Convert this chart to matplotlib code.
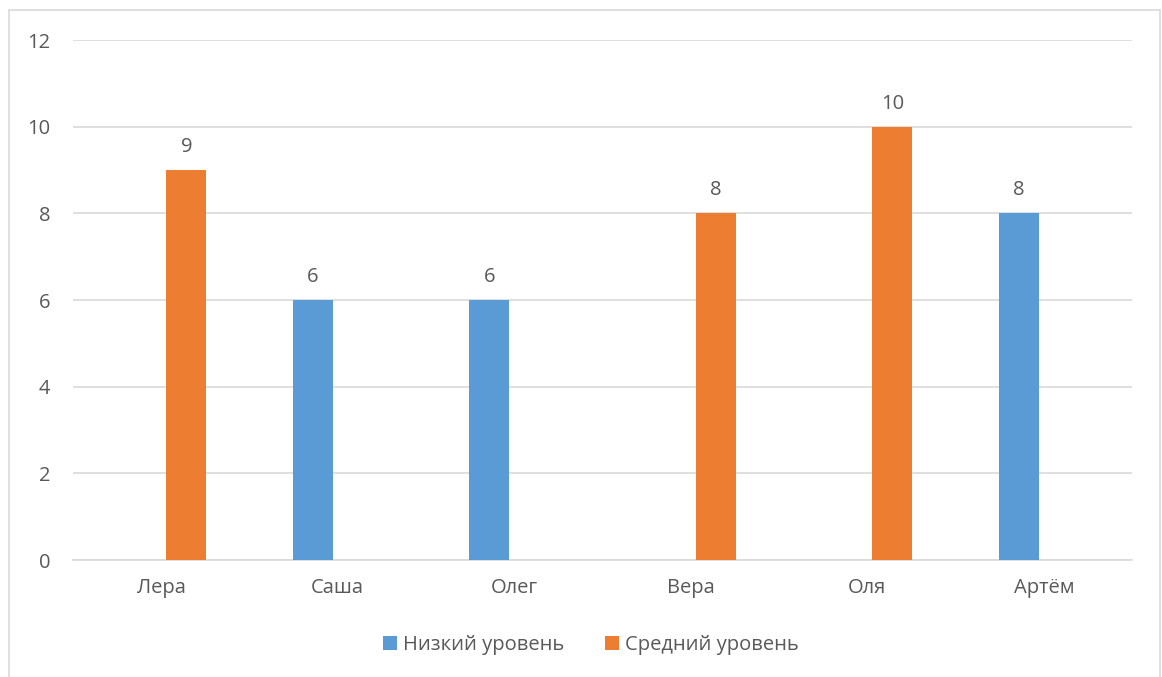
import numpy as np
import matplotlib.pyplot as plt
from matplotlib.patches import Rectangle

names = ['Лера', 'Саша', 'Олег', 'Вера', 'Оля', 'Артём']
low_level = [np.nan, 6, 6, np.nan, np.nan, 8]
mid_level = [9, np.nan, np.nan, 8, 10, np.nan]
series_names = ['Низкий уровень', 'Средний уровень']

plt.rcParams['font.family'] = ['Open Sans', 'DejaVu Sans']
text_color = '#595959'
grid_color = '#d9d9d9'
colors = ['#5b9bd5', '#ed7d31']
fs = 14.5

fig = plt.figure(figsize=(11.62, 6.77), dpi=100)
# light frame around the whole chart
fig.patches.append(Rectangle((9 / 1162, -0.05), 1151 / 1162, 1 - 10 / 677 + 0.05,
                             transform=fig.transFigure, fill=False,
                             edgecolor=grid_color, linewidth=1.2))

ax = fig.add_axes([73 / 1162, 1 - 560 / 677, (1132 - 73) / 1162, (560 - 40) / 677])

x = np.arange(len(names))
w = 0.227
off = 0.142
for vals, sign, color, label in zip([low_level, mid_level], [-1, 1], colors, series_names):
    bars = ax.bar(x + sign * off, vals, width=w, color=color, label=label, zorder=3)
    for b, v in zip(bars, vals):
        if np.isnan(v):
            continue
        ax.annotate(f'{v:g}', (b.get_x() + b.get_width() / 2, v),
                    xytext=(0, 13), textcoords='offset pixels',
                    ha='center', va='bottom', fontsize=fs, color=text_color)

ax.set_xlim(-0.5, len(names) - 0.5)
ax.set_ylim(0, 12)
ax.set_yticks(range(0, 13, 2))
ax.set_xticks(x)
ax.set_xticklabels(names)
ax.yaxis.grid(True, color=grid_color, linewidth=1.2, zorder=0)
ax.tick_params(axis='both', length=0, labelsize=fs, labelcolor=text_color)
ax.tick_params(axis='y', pad=16.5)
ax.tick_params(axis='x', pad=13)
for s in ['top', 'right', 'left']:
    ax.spines[s].set_visible(False)
ax.spines['bottom'].set_color(grid_color)
ax.spines['bottom'].set_linewidth(1.2)

fig.legend(loc='center', bbox_to_anchor=(591 / 1162, 1 - 645 / 677), ncol=2, frameon=False,
           fontsize=fs, labelcolor=text_color, handlelength=0.7, handleheight=0.7,
           handletextpad=0.3, columnspacing=2.0)

fig.savefig('out.png', dpi=100)
